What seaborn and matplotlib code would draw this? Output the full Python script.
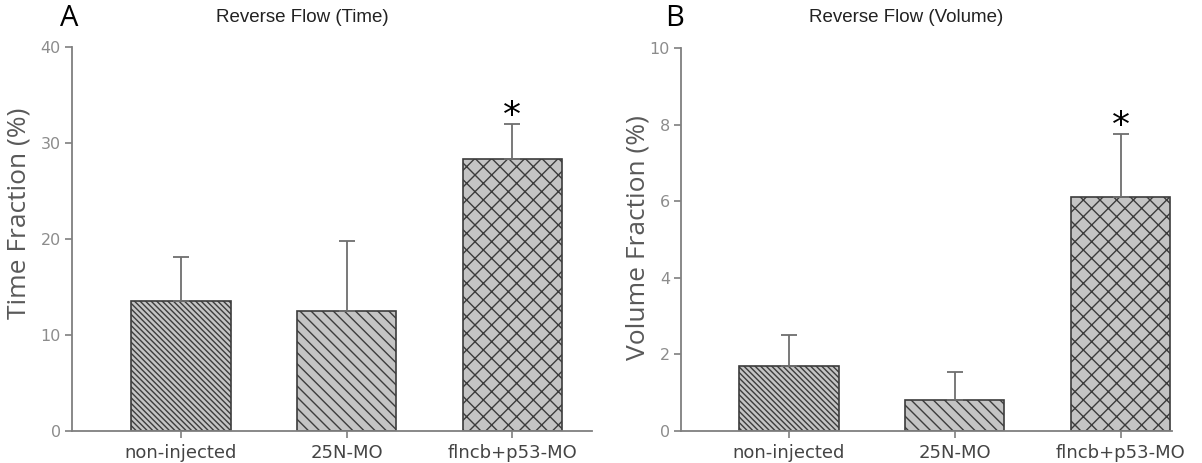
"""Reverse flow bar charts (time and volume fractions)."""

import matplotlib

matplotlib.use("Agg")
import matplotlib.pyplot as plt
import numpy as np
import pandas as pd
import seaborn as sns

groups = ["non-injected", "25N-MO", "flncb+p53-MO"]
time_mean = [13.5, 12.5, 28.3]
time_err = [4.6, 7.3, 3.7]
volume_mean = [1.7, 0.8, 6.1]
volume_err = [0.8, 0.73, 1.65]
significant = [False, False, True]

hatches = ["\\" * 6, "\\" * 3, "xx"]
GRAY_AXIS = "#7f7f7f"
GRAY_TICK = "#8c8c8c"

sns.set_theme(style="white")
plt.rcParams["hatch.color"] = "#333333"
plt.rcParams["hatch.linewidth"] = 1.0
plt.rcParams["font.family"] = ["DejaVu Sans"]

fig = plt.figure(figsize=(12.02, 4.63), dpi=100)
W, H = 1202, 463


def px_axes(x0, x1, y_top, y_bot):
    return fig.add_axes([x0 / W, 1 - y_bot / H, (x1 - x0) / W, (y_bot - y_top) / H])


def draw_panel(ax, means, errs, ymax, yticks, ylabel, xlim):
    df = pd.DataFrame({"group": groups, "value": means})
    sns.barplot(data=df, x="group", y="value", ax=ax, color="#c4c4c4", width=0.6,
                edgecolor="#3c3c3c", linewidth=1.2, errorbar=None, saturation=1)
    for patch, hatch in zip(ax.patches, hatches):
        patch.set_hatch(hatch)
    x = np.arange(len(groups))
    ax.errorbar(x, means, yerr=[np.zeros(len(errs)), errs], fmt="none", ecolor="#6e6e6e",
                elinewidth=1.3, capsize=6, capthick=1.3, zorder=1)
    for xi, m, e, sig in zip(x, means, errs, significant):
        if sig:
            ax.annotate("*", (xi, m + e), xytext=(0, -1.5), textcoords="offset points",
                        ha="center", va="baseline", fontsize=26, color="black")
    ax.set_ylim(0, ymax)
    ax.set_xlim(*xlim)
    ax.set_yticks(yticks)
    ax.set_xlabel("")
    ax.set_ylabel(ylabel, fontsize=19, color="#595959", family="Open Sans")
    for side in ["top", "right"]:
        ax.spines[side].set_visible(False)
    for side in ["left", "bottom"]:
        ax.spines[side].set_color(GRAY_AXIS)
        ax.spines[side].set_linewidth(1.3)
    ax.tick_params(axis="y", which="major", left=True, length=5, width=1.2, color=GRAY_AXIS,
                   labelsize=11.5, labelcolor=GRAY_TICK, pad=3)
    ax.tick_params(axis="x", which="major", bottom=True, length=5, width=1.2, color=GRAY_AXIS,
                   labelsize=13, labelcolor="#444444", pad=4)


ax_a = px_axes(72, 592, 47, 431)
draw_panel(ax_a, time_mean, time_err, 40, [0, 10, 20, 30, 40], "Time Fraction (%)", (-0.657, 2.48))
ax_a.yaxis.set_label_coords(-0.077, 0.568)

ax_b = px_axes(681, 1172, 48, 431)
draw_panel(ax_b, volume_mean, volume_err, 10, [0, 2, 4, 6, 8, 10], "Volume Fraction (%)", (-0.65, 2.31))
ax_b.yaxis.set_label_coords(-0.063, 0.506)

fig.text(69 / W, 1 - 18 / H, "A", fontsize=21, family="Open Sans", color="black", va="center", ha="center")
fig.text(675 / W, 1 - 18 / H, "B", fontsize=21, family="Open Sans", color="black", va="center", ha="center")
fig.text(302 / W, 1 - 18 / H, "Reverse Flow (Time)", fontsize=13.5, family="Liberation Sans",
         color="#222222", va="center", ha="center")
fig.text(906 / W, 1 - 18 / H, "Reverse Flow (Volume)", fontsize=13.5, family="Liberation Sans",
         color="#222222", va="center", ha="center")

fig.savefig("out.png", dpi=100)
